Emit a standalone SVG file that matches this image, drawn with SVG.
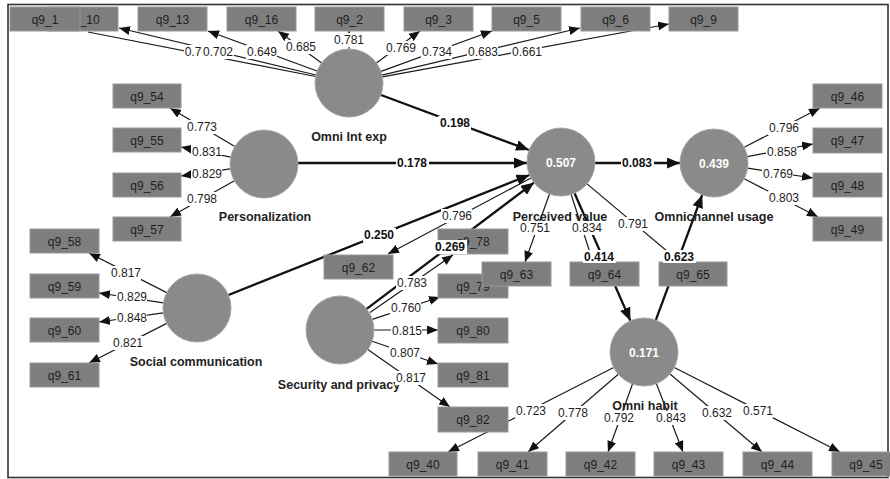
<svg xmlns="http://www.w3.org/2000/svg" width="890" height="479" viewBox="0 0 890 479">
<defs>
<marker id="ah" markerUnits="userSpaceOnUse" markerWidth="11" markerHeight="9" refX="11" refY="4.5" orient="auto"><path d="M0,0 L11,4.5 L0,9 z" fill="#111"/></marker>
<marker id="ahb" markerUnits="userSpaceOnUse" markerWidth="13" markerHeight="11" refX="13" refY="5.5" orient="auto"><path d="M0,0 L13,5.5 L0,11 z" fill="#111"/></marker>
<style>
.t{stroke:#1a1a1a;stroke-width:1.2;fill:none;marker-end:url(#ah)}
.t0{stroke:#1a1a1a;stroke-width:1.2;fill:none}
.b{stroke:#111;stroke-width:2.3;fill:none;marker-end:url(#ahb)}
.box{fill:#7e7e7e;stroke:#9a9a9a;stroke-width:1}
.bx{font-family:"Liberation Sans",Arial,sans-serif;font-size:12px;fill:#1e1e1e;text-anchor:middle}
.cir{fill:#8a8a8a;stroke:#a5a5a5;stroke-width:1}
.cv{font-family:"Liberation Sans",Arial,sans-serif;font-size:12px;font-weight:bold;fill:#fff;text-anchor:middle}
.nl{font-family:"Liberation Sans",Arial,sans-serif;font-size:12.5px;font-weight:bold;fill:#222;text-anchor:middle}
.lb{fill:#fff}
.lt{font-family:"Liberation Sans",Arial,sans-serif;font-size:12px;fill:#1e1e1e;text-anchor:middle}
.lbt{font-family:"Liberation Sans",Arial,sans-serif;font-size:12px;font-weight:bold;fill:#111;text-anchor:middle}
</style>
</defs>
<rect x="0" y="0" width="890" height="479" fill="#fff"/>
<rect x="8" y="4.5" width="880" height="473" fill="none" stroke="#333" stroke-width="1.6"/>

<g id="connectors">
<!-- Omni Int exp loadings -->
<line class="t0" x1="315.6" y1="76.5" x2="88" y2="32"/>
<line class="t" x1="316" y1="75" x2="119" y2="28"/>
<line class="t" x1="317" y1="71" x2="208" y2="31"/>
<line class="t" x1="321.6" y1="62.9" x2="278" y2="31"/>
<line class="t" x1="349" y1="49" x2="349" y2="31"/>
<line class="t" x1="376.4" y1="62.9" x2="420" y2="31"/>
<line class="t" x1="381" y1="71.4" x2="492" y2="31"/>
<line class="t" x1="382" y1="75.1" x2="580" y2="28"/>
<line class="t" x1="382.4" y1="76.8" x2="669" y2="24"/>
<!-- Personalization loadings -->
<line class="t" x1="234.8" y1="146.6" x2="170" y2="108"/>
<line class="t" x1="230.7" y1="157.2" x2="181" y2="147"/>
<line class="t" x1="230.3" y1="168.9" x2="181" y2="176"/>
<line class="t" x1="234.4" y1="180.7" x2="170" y2="217"/>
<!-- Social communication loadings -->
<line class="t" x1="166.7" y1="292.6" x2="89" y2="253"/>
<line class="t" x1="163.4" y1="302.9" x2="99" y2="293"/>
<line class="t" x1="163.3" y1="312.8" x2="99" y2="322"/>
<line class="t" x1="166.7" y1="323.4" x2="89" y2="363"/>
<!-- Security and privacy loadings -->
<line class="t" x1="370" y1="312.5" x2="453" y2="255"/>
<line class="t" x1="372.3" y1="319.4" x2="440" y2="297"/>
<line class="t" x1="374" y1="330" x2="438" y2="330"/>
<line class="t" x1="372.1" y1="341.2" x2="438" y2="364"/>
<line class="t" x1="367.8" y1="349.5" x2="450" y2="407"/>
<!-- Perceived value loadings -->
<line class="t" x1="531" y1="178" x2="388" y2="254"/>
<line class="t" x1="549.5" y1="194" x2="525" y2="262"/>
<line class="t" x1="571" y1="194" x2="593" y2="262"/>
<line class="t" x1="587" y1="183.9" x2="680" y2="262"/>
<!-- Omnichannel usage loadings -->
<line class="t" x1="744.2" y1="147.3" x2="820" y2="108"/>
<line class="t" x1="747.4" y1="156.6" x2="813" y2="144"/>
<line class="t" x1="747.6" y1="168.1" x2="813" y2="178"/>
<line class="t" x1="744.2" y1="178.7" x2="818" y2="217"/>
<!-- Omni habit loadings -->
<line class="t" x1="613.7" y1="367.5" x2="448" y2="452"/>
<line class="t" x1="618.3" y1="374.2" x2="528" y2="452"/>
<line class="t" x1="632.5" y1="384" x2="608" y2="452"/>
<line class="t" x1="656.4" y1="383.7" x2="683" y2="452"/>
<line class="t" x1="670" y1="374" x2="762" y2="452"/>
<line class="t" x1="674.3" y1="367.5" x2="840" y2="452"/>
<!-- structural paths -->
<line class="b" x1="381" y1="95" x2="529" y2="150"/>
<line class="b" x1="298" y1="163" x2="527" y2="163"/>
<line class="b" x1="228.5" y1="295" x2="529.5" y2="175"/>
<line class="b" x1="366" y1="309.4" x2="534" y2="182.6"/>
<line class="b" x1="595" y1="163" x2="680" y2="163"/>
<line class="b" x1="574.6" y1="193.2" x2="630.4" y2="320.8"/>
<line class="b" x1="655.8" y1="320.1" x2="702.2" y2="194.9"/>
</g>

<g id="ind-q9_10"><rect class="box" x="48" y="7" width="70" height="24"/><text class="bx" x="83" y="23.5">q9_10</text></g>
<g id="ind-q9_1"><rect class="box" x="10" y="7" width="70" height="24"/><text class="bx" x="45" y="23.5">q9_1</text></g>
<g id="ind-q9_13"><rect class="box" x="138" y="7" width="69" height="24"/><text class="bx" x="172.5" y="23.5">q9_13</text></g>
<g id="ind-q9_16"><rect class="box" x="227" y="7" width="69" height="24"/><text class="bx" x="261.5" y="23.5">q9_16</text></g>
<g id="ind-q9_2"><rect class="box" x="315" y="7" width="69" height="24"/><text class="bx" x="349.5" y="23.5">q9_2</text></g>
<g id="ind-q9_3"><rect class="box" x="404" y="7" width="69" height="24"/><text class="bx" x="438.5" y="23.5">q9_3</text></g>
<g id="ind-q9_5"><rect class="box" x="492" y="7" width="69" height="24"/><text class="bx" x="526.5" y="23.5">q9_5</text></g>
<g id="ind-q9_6"><rect class="box" x="581" y="7" width="69" height="24"/><text class="bx" x="615.5" y="23.5">q9_6</text></g>
<g id="ind-q9_9"><rect class="box" x="669" y="7" width="69" height="24"/><text class="bx" x="703.5" y="23.5">q9_9</text></g>

<g id="ind-q9_54"><rect class="box" x="113" y="84" width="68" height="24"/><text class="bx" x="147" y="100.5">q9_54</text></g>
<g id="ind-q9_55"><rect class="box" x="113" y="128" width="68" height="24"/><text class="bx" x="147" y="144.5">q9_55</text></g>
<g id="ind-q9_56"><rect class="box" x="113" y="173" width="68" height="24"/><text class="bx" x="147" y="189.5">q9_56</text></g>
<g id="ind-q9_57"><rect class="box" x="113" y="217" width="68" height="24"/><text class="bx" x="147" y="233.5">q9_57</text></g>

<g id="ind-q9_58"><rect class="box" x="30" y="229" width="69" height="24"/><text class="bx" x="64.5" y="245.5">q9_58</text></g>
<g id="ind-q9_59"><rect class="box" x="30" y="274" width="69" height="24"/><text class="bx" x="64.5" y="290.5">q9_59</text></g>
<g id="ind-q9_60"><rect class="box" x="30" y="318" width="69" height="24"/><text class="bx" x="64.5" y="334.5">q9_60</text></g>
<g id="ind-q9_61"><rect class="box" x="30" y="363" width="69" height="24"/><text class="bx" x="64.5" y="379.5">q9_61</text></g>

<g id="ind-q9_62"><rect class="box" x="324" y="255" width="69" height="24"/><text class="bx" x="358.5" y="271.5">q9_62</text></g>
<g id="ind-q9_78"><rect class="box" x="438" y="229" width="70" height="25"/><text class="bx" x="473" y="245.5">q9_78</text></g>
<g id="ind-q9_79"><rect class="box" x="438" y="274" width="70" height="24"/><text class="bx" x="473" y="290.5">q9_79</text></g>
<g id="ind-q9_63"><rect class="box" x="482" y="262" width="69" height="24"/><text class="bx" x="516.5" y="278.5">q9_63</text></g>
<g id="ind-q9_80"><rect class="box" x="438" y="318" width="70" height="25"/><text class="bx" x="473" y="334.5">q9_80</text></g>
<g id="ind-q9_81"><rect class="box" x="438" y="363" width="70" height="24"/><text class="bx" x="473" y="379.5">q9_81</text></g>
<g id="ind-q9_82"><rect class="box" x="438" y="407" width="70" height="25"/><text class="bx" x="473" y="423.5">q9_82</text></g>
<g id="ind-q9_64"><rect class="box" x="570" y="262" width="69" height="24"/><text class="bx" x="604.5" y="278.5">q9_64</text></g>
<g id="ind-q9_65"><rect class="box" x="659" y="262" width="68" height="24"/><text class="bx" x="693" y="278.5">q9_65</text></g>

<g id="ind-q9_46"><rect class="box" x="813" y="84" width="69" height="24"/><text class="bx" x="847.5" y="100.5">q9_46</text></g>
<g id="ind-q9_47"><rect class="box" x="813" y="128" width="69" height="25"/><text class="bx" x="847.5" y="144.5">q9_47</text></g>
<g id="ind-q9_48"><rect class="box" x="813" y="173" width="69" height="24"/><text class="bx" x="847.5" y="189.5">q9_48</text></g>
<g id="ind-q9_49"><rect class="box" x="813" y="217" width="69" height="24"/><text class="bx" x="847.5" y="233.5">q9_49</text></g>

<g id="ind-q9_40"><rect class="box" x="389" y="452" width="68" height="24"/><text class="bx" x="423" y="468.5">q9_40</text></g>
<g id="ind-q9_41"><rect class="box" x="478" y="452" width="69" height="24"/><text class="bx" x="512.5" y="468.5">q9_41</text></g>
<g id="ind-q9_42"><rect class="box" x="566" y="452" width="69" height="24"/><text class="bx" x="600.5" y="468.5">q9_42</text></g>
<g id="ind-q9_43"><rect class="box" x="654" y="452" width="69" height="24"/><text class="bx" x="688.5" y="468.5">q9_43</text></g>
<g id="ind-q9_44"><rect class="box" x="743" y="452" width="69" height="24"/><text class="bx" x="777.5" y="468.5">q9_44</text></g>
<g id="ind-q9_45"><rect class="box" x="832" y="452" width="69" height="24"/><text class="bx" x="866" y="468.5">q9_45</text></g>

<g id="lv-omni-int-exp"><circle class="cir" cx="349" cy="83" r="34"/><text class="nl" x="349" y="141">Omni Int exp</text></g>
<g id="lv-personalization"><circle class="cir" cx="264" cy="164" r="34"/><text class="nl" x="265" y="221">Personalization</text></g>
<g id="lv-social-communication"><circle class="cir" cx="197" cy="308" r="34"/><text class="nl" x="196" y="366">Social communication</text></g>
<g id="lv-security-privacy"><circle class="cir" cx="340" cy="330" r="34"/><text class="nl" x="339" y="389">Security and privacy</text></g>
<g id="lv-perceived-value"><circle class="cir" cx="561" cy="162" r="34"/><text class="cv" x="561" y="166.5">0.507</text><text class="nl" x="560" y="221">Perceived value</text></g>
<g id="lv-omnichannel-usage"><circle class="cir" cx="714" cy="163" r="34"/><text class="cv" x="714" y="167.5">0.439</text><text class="nl" x="714" y="221">Omnichannel usage</text></g>
<g id="lv-omni-habit"><circle class="cir" cx="644" cy="352" r="34"/><text class="cv" x="644" y="356.5">0.171</text><text class="nl" x="645" y="410">Omni habit</text></g>

<g id="connector-labels">
<rect class="lb" x="184" y="45" width="22" height="14"/><text class="lt" x="193" y="56">0.7</text>
<rect class="lb" x="203" y="45" width="31" height="14"/><text class="lt" x="218" y="56">0.702</text>
<rect class="lb" x="246" y="45" width="31" height="14"/><text class="lt" x="262" y="56">0.649</text>
<rect class="lb" x="285" y="40" width="31" height="14"/><text class="lt" x="301" y="51">0.685</text>
<rect class="lb" x="333" y="33" width="31" height="14"/><text class="lt" x="349" y="44">0.781</text>
<rect class="lb" x="385" y="41" width="31" height="14"/><text class="lt" x="401" y="52">0.769</text>
<rect class="lb" x="421" y="45" width="31" height="14"/><text class="lt" x="437" y="56">0.734</text>
<rect class="lb" x="467" y="45" width="31" height="14"/><text class="lt" x="483" y="56">0.683</text>
<rect class="lb" x="511" y="45" width="31" height="14"/><text class="lt" x="527" y="56">0.661</text>

<rect class="lb" x="186" y="120" width="31" height="14"/><text class="lt" x="202" y="131">0.773</text>
<rect class="lb" x="191" y="145" width="31" height="14"/><text class="lt" x="207" y="156">0.831</text>
<rect class="lb" x="191" y="167" width="31" height="14"/><text class="lt" x="207" y="178">0.829</text>
<rect class="lb" x="186" y="192" width="31" height="14"/><text class="lt" x="202" y="203">0.798</text>

<rect class="lb" x="110" y="266" width="31" height="14"/><text class="lt" x="126" y="277">0.817</text>
<rect class="lb" x="116" y="290" width="31" height="14"/><text class="lt" x="132" y="301">0.829</text>
<rect class="lb" x="116" y="311" width="31" height="14"/><text class="lt" x="132" y="322">0.848</text>
<rect class="lb" x="112" y="336" width="31" height="14"/><text class="lt" x="128" y="347">0.821</text>

<rect class="lb" x="396" y="276" width="31" height="14"/><text class="lt" x="412" y="287">0.783</text>
<rect class="lb" x="390" y="301" width="31" height="14"/><text class="lt" x="406" y="312">0.760</text>
<rect class="lb" x="391" y="324" width="31" height="14"/><text class="lt" x="407" y="335">0.815</text>
<rect class="lb" x="389" y="346" width="31" height="14"/><text class="lt" x="405" y="357">0.807</text>
<rect class="lb" x="395" y="371" width="31" height="14"/><text class="lt" x="411" y="382">0.817</text>

<rect class="lb" x="441" y="209" width="31" height="14"/><text class="lt" x="457" y="220">0.796</text>
<rect class="lb" x="519" y="221" width="31" height="14"/><text class="lt" x="535" y="232">0.751</text>
<rect class="lb" x="571" y="221" width="31" height="14"/><text class="lt" x="587" y="232">0.834</text>
<rect class="lb" x="617" y="217" width="31" height="14"/><text class="lt" x="633" y="228">0.791</text>

<rect class="lb" x="768" y="121" width="31" height="14"/><text class="lt" x="784" y="132">0.796</text>
<rect class="lb" x="766" y="145" width="31" height="14"/><text class="lt" x="782" y="156">0.858</text>
<rect class="lb" x="762" y="167" width="31" height="14"/><text class="lt" x="778" y="178">0.769</text>
<rect class="lb" x="768" y="191" width="31" height="14"/><text class="lt" x="784" y="202">0.803</text>

<rect class="lb" x="515" y="404" width="31" height="14"/><text class="lt" x="531" y="415">0.723</text>
<rect class="lb" x="557" y="406" width="31" height="14"/><text class="lt" x="573" y="417">0.778</text>
<rect class="lb" x="603" y="411" width="31" height="14"/><text class="lt" x="619" y="422">0.792</text>
<rect class="lb" x="655" y="411" width="31" height="14"/><text class="lt" x="671" y="422">0.843</text>
<rect class="lb" x="701" y="406" width="31" height="14"/><text class="lt" x="717" y="417">0.632</text>
<rect class="lb" x="742" y="404" width="31" height="14"/><text class="lt" x="758" y="415">0.571</text>

<rect class="lb" x="438" y="116" width="33" height="14"/><text class="lbt" x="455" y="127">0.198</text>
<rect class="lb" x="396" y="156" width="33" height="14"/><text class="lbt" x="412" y="167">0.178</text>
<rect class="lb" x="363" y="228" width="33" height="14"/><text class="lbt" x="379" y="239">0.250</text>
<rect class="lb" x="434" y="240" width="33" height="14"/><text class="lbt" x="450" y="251">0.269</text>
<rect class="lb" x="621" y="156" width="33" height="14"/><text class="lbt" x="637" y="167">0.083</text>
<rect class="lb" x="583" y="250" width="33" height="13"/><text class="lbt" x="599" y="261">0.414</text>
<rect class="lb" x="663" y="250" width="33" height="13"/><text class="lbt" x="679" y="261">0.623</text>
</g>
</svg>
